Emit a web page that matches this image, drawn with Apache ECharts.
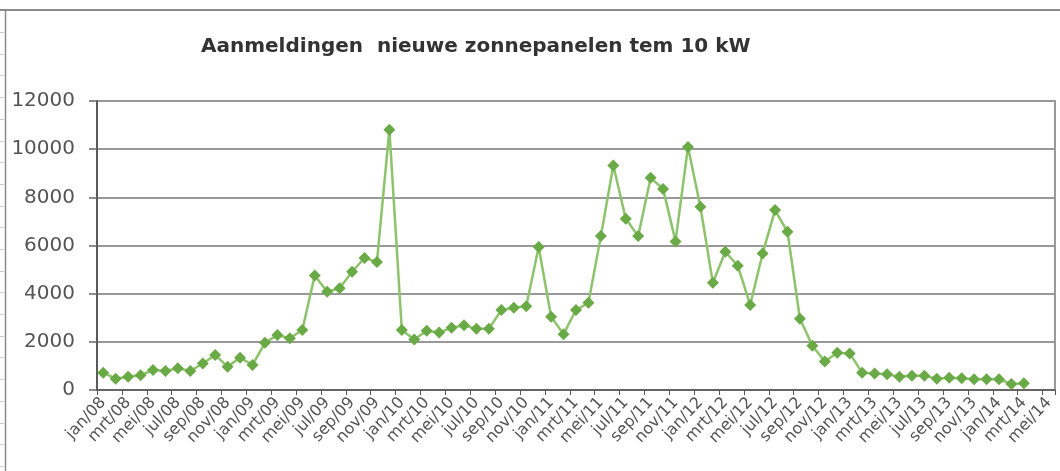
<!DOCTYPE html>
<html>
<head>
<meta charset="utf-8">
<script src="https://cdn.jsdelivr.net/npm/echarts@6/dist/echarts.min.js"></script>
<style>
html,body{margin:0;padding:0;background:#fff;}
#chart{width:1060px;height:471px;}
</style>
</head>
<body>
<div id="chart"></div>
<script>
const titleText = 'Aanmeldingen  nieuwe zonnepanelen tem 10 kW';

const categories = [
  'jan/08','feb/08','mrt/08','apr/08','mei/08','jun/08','jul/08','aug/08','sep/08','okt/08','nov/08','dec/08',
  'jan/09','feb/09','mrt/09','apr/09','mei/09','jun/09','jul/09','aug/09','sep/09','okt/09','nov/09','dec/09',
  'jan/10','feb/10','mrt/10','apr/10','mei/10','jun/10','jul/10','aug/10','sep/10','okt/10','nov/10','dec/10',
  'jan/11','feb/11','mrt/11','apr/11','mei/11','jun/11','jul/11','aug/11','sep/11','okt/11','nov/11','dec/11',
  'jan/12','feb/12','mrt/12','apr/12','mei/12','jun/12','jul/12','aug/12','sep/12','okt/12','nov/12','dec/12',
  'jan/13','feb/13','mrt/13','apr/13','mei/13','jun/13','jul/13','aug/13','sep/13','okt/13','nov/13','dec/13',
  'jan/14','feb/14','mrt/14','apr/14','mei/14'
];

const registrations = [
  720, 470, 550, 610, 830, 790, 900, 790, 1100, 1450, 970, 1340,
  1040, 1960, 2280, 2150, 2490, 4750, 4080, 4220, 4910, 5480, 5320, 10810,
  2490, 2100, 2460, 2390, 2580, 2690, 2540, 2540, 3320, 3420, 3480, 5940,
  3040, 2320, 3320, 3620, 6390, 9320, 7110, 6390, 8810, 8350, 6170, 10090,
  7610, 4450, 5740, 5160, 3530, 5670, 7470, 6570, 2960, 1840, 1180, 1550,
  1520, 720, 690, 650, 550, 595, 595, 470, 510, 485, 445, 445,
  445, 250, 277
];

const yTicks = { min: 0, max: 12000, interval: 2000 };

const chart = echarts.init(document.getElementById('chart'), null, { renderer: 'canvas' });

// decorative sheet border lines (not data)
const decor = [
  { type: 'line', shape: { x1: 0, y1: 10, x2: 1060, y2: 10 }, style: { stroke: '#8a8a8a', lineWidth: 2 } },
  { type: 'line', shape: { x1: 5.5, y1: 10, x2: 5.5, y2: 471 }, style: { stroke: '#8a8a8a', lineWidth: 1.5 } }
];
for (let y = 32; y < 471; y += 21.7) {
  decor.push({ type: 'line', shape: { x1: 0, y1: Math.round(y) + 0.5, x2: 4, y2: Math.round(y) + 0.5 }, style: { stroke: '#cfcfcf', lineWidth: 1 } });
}

chart.setOption({
  animation: false,
  backgroundColor: '#ffffff',
  title: {
    text: titleText,
    left: 196,
    top: 32,
    textStyle: { fontFamily: 'DejaVu Sans', fontWeight: 'bold', fontSize: 20, color: '#333333' }
  },
  graphic: decor,
  grid: {
    left: 97, right: 5, top: 101, bottom: 81,
    show: true, borderColor: '#9a9a9a', borderWidth: 2, backgroundColor: 'transparent'
  },
  xAxis: {
    type: 'category',
    data: categories,
    boundaryGap: true,
    axisLine: { show: true, lineStyle: { color: '#555555', width: 1.5 } },
    axisTick: { show: true, interval: 1, length: 5, lineStyle: { color: '#555555', width: 1 } },
    axisLabel: {
      interval: 1, rotate: 47, margin: 10,
      fontFamily: 'DejaVu Sans', fontSize: 16, color: '#555555'
    },
    splitLine: { show: false }
  },
  yAxis: {
    type: 'value',
    min: yTicks.min, max: yTicks.max, interval: yTicks.interval,
    axisLine: { show: true, lineStyle: { color: '#444444', width: 1.5 } },
    axisTick: { show: true, length: 8, lineStyle: { color: '#666666', width: 1.5 } },
    axisLabel: {
      margin: 22, fontFamily: 'DejaVu Sans', fontSize: 20, color: '#555555',
      formatter: function (v) { return String(v); }
    },
    splitLine: { show: true, lineStyle: { color: '#999999', width: 2 } }
  },
  series: [{
    type: 'line',
    data: registrations,
    symbol: 'diamond',
    symbolSize: 12,
    showAllSymbol: true,
    itemStyle: { color: '#6aaa46' },
    lineStyle: { color: '#8cc36b', width: 2.5 }
  }]
});
</script>
</body>
</html>
